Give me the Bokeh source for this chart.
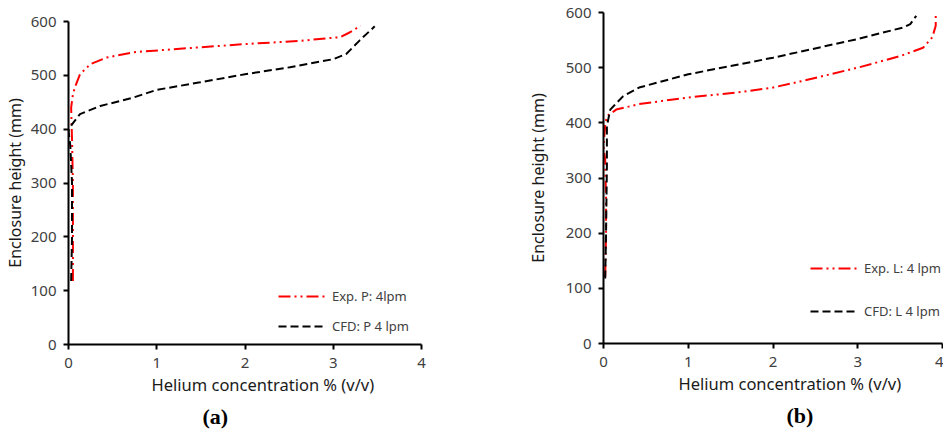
from bokeh.plotting import figure
from bokeh.models import Range1d, SingleIntervalTicker, Legend, LegendItem, Title
from bokeh.layouts import row, column
from bokeh.embed import file_html
from bokeh.resources import INLINE

# ---- Panel (a) data ----
exp_p_conc = [0.05, 0.05, 0.05, 0.04, 0.03, 0.05, 0.08, 0.13, 0.25, 0.43, 0.74, 1.23, 2.0, 2.62, 3.08, 3.19, 3.31]
exp_p_height = [118, 200, 300, 380, 440, 465, 481, 502, 521, 533, 543, 549, 558, 564, 571, 580, 592]
cfd_p_conc = [0.03, 0.04, 0.04, 0.02, 0.0, 0.04, 0.13, 0.36, 0.74, 1.0, 1.49, 2.0, 2.51, 3.0, 3.15, 3.30, 3.47]
cfd_p_height = [118, 200, 300, 370, 397, 409, 428, 443, 459, 473, 487, 502, 515, 530, 540, 565, 591]

# ---- Panel (b) data ----
exp_l_conc = [0.02, 0.03, 0.03, 0.02, 0.0, 0.02, 0.04, 0.15, 0.42, 1.0, 1.58, 2.0, 2.35, 3.0, 3.5, 3.77, 3.88, 3.92, 3.92]
exp_l_height = [121, 200, 261, 333, 358, 395, 412, 424, 434, 446, 455, 464, 476, 500, 521, 536, 555, 576, 594]
cfd_l_conc = [0.02, 0.03, 0.04, 0.04, 0.08, 0.23, 0.42, 1.0, 2.0, 3.0, 3.54, 3.62, 3.69]
cfd_l_height = [118, 200, 321, 394, 424, 448, 464, 488, 518, 552, 573, 579, 594]

x_title = "Helium concentration % (v/v)"
y_title = "Enclosure height (mm)"

FONT = "Noto Sans"


def make_panel(width, height, border_left, border_top, border_bottom, border_right,
               y_title_standoff):
    p = figure(width=width, height=height, output_backend="svg", toolbar_location=None,
               x_range=Range1d(0, 4), y_range=Range1d(0, 600),
               min_border_left=border_left, min_border_top=border_top,
               min_border_bottom=border_bottom, min_border_right=border_right)
    p.outline_line_color = None
    p.grid.visible = False
    p.xaxis.ticker = SingleIntervalTicker(interval=1)
    p.yaxis.ticker = SingleIntervalTicker(interval=100)
    for ax in (p.xaxis[0], p.yaxis[0]):
        ax.axis_line_width = 2
        ax.axis_line_color = "black"
        ax.major_tick_line_width = 2
        ax.major_tick_line_color = "black"
        ax.major_tick_out = 5
        ax.major_tick_in = 0
        ax.minor_tick_line_color = None
        ax.major_label_text_font = FONT
        ax.major_label_text_font_size = "15px"
        ax.major_label_text_color = "#404040"
    p.xaxis.major_label_standoff = 8
    p.yaxis.major_label_standoff = 7
    p.yaxis.axis_label = y_title
    p.yaxis.axis_label_text_font = FONT
    p.yaxis.axis_label_text_font_size = "16px"
    p.yaxis.axis_label_text_font_style = "normal"
    p.yaxis.axis_label_text_color = "#1a1a1a"
    p.yaxis.axis_label_standoff = y_title_standoff
    return p


def add_below(p, text, font, size, color, style, offset, standoff):
    p.add_layout(Title(text=text, text_font=font, text_font_size=size,
                       text_color=color, text_font_style=style, align="left",
                       offset=offset, standoff=standoff), "below")


# ---- Panel (a) ----
pa = make_panel(480, 434, 68, 21, 90, 59, 2)
ra = pa.line(exp_p_conc, exp_p_height, line_color="#ff0000", line_width=2,
             line_dash="12 4 2 4 2 4")
ba = pa.line(cfd_p_conc, cfd_p_height, line_color="black", line_width=2,
             line_dash="8 4")
leg_a = Legend(items=[LegendItem(label="Exp. P: 4lpm", renderers=[ra]),
                      LegendItem(label="CFD: P 4 lpm", renderers=[ba])],
               location=(210, 8), padding=0, margin=0, spacing=10,
               border_line_color=None, background_fill_alpha=0,
               glyph_width=48, label_standoff=6,
               label_text_font=FONT, label_text_font_size="13px",
               label_text_color="#404040")
pa.add_layout(leg_a, "center")
add_below(pa, x_title, FONT, "16.5px", "#1a1a1a", "normal", 83, 0)
add_below(pa, "(a)", "Liberation Serif", "22px", "black", "bold", 134, 12)

# ---- Panel (b) ----
pb = make_panel(463, 434, 123, 12, 91, 1, 14)
rb = pb.line(exp_l_conc, exp_l_height, line_color="#ff0000", line_width=2,
             line_dash="12 4 2 4 2 4")
bb = pb.line(cfd_l_conc, cfd_l_height, line_color="black", line_width=2,
             line_dash="8 4")
leg_b = Legend(items=[LegendItem(label="Exp. L: 4 lpm", renderers=[rb]),
                      LegendItem(label="CFD: L 4 lpm", renderers=[bb])],
               location=(207, 22), padding=0, margin=0, spacing=23,
               border_line_color=None, background_fill_alpha=0,
               glyph_width=48, label_standoff=6,
               label_text_font=FONT, label_text_font_size="13px",
               label_text_color="#404040")
pb.add_layout(leg_b, "center")
add_below(pb, x_title, FONT, "16.5px", "#1a1a1a", "normal", 75, 0)
add_below(pb, "(b)", "Liberation Serif", "22px", "black", "bold", 183, 12)

layout = row(column(pa), column(pb))
open("out.html", "w").write(file_html(layout, INLINE))
